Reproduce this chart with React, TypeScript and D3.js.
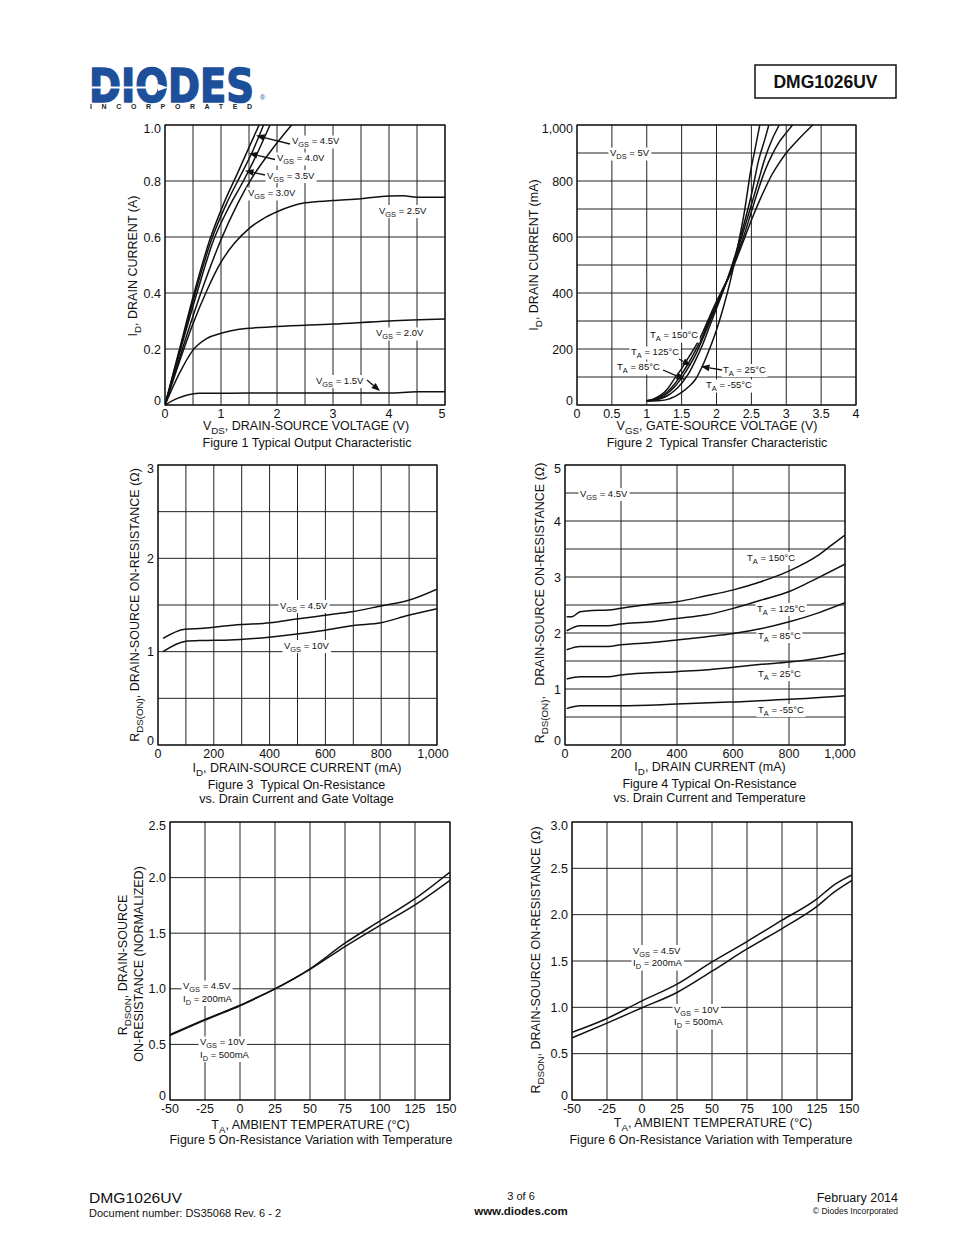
import React, { useLayoutEffect, useRef, useState } from "react";
import * as d3 from "d3";

type Pt = [number, number];
type Seg = { t: string; sub?: boolean };

const FONT = "'Liberation Sans', Arial, Helvetica, sans-serif";

// ---------------- Figure 1: Typical Output Characteristic ----------------
const fig1XTicks = [0, 1, 2, 3, 4, 5];
const fig1XGrid = [0, 0.5, 1, 1.5, 2, 2.5, 3, 3.5, 4, 4.5, 5];
const fig1YTicks = [0, 0.2, 0.4, 0.6, 0.8, 1.0];
const fig1Vgs45: Pt[] = [[0, 0], [0.26, 0.2], [0.52, 0.4], [0.8, 0.59], [1.05, 0.72], [1.3, 0.83], [1.5, 0.92], [1.68, 1.0]];
const fig1Vgs40: Pt[] = [[0, 0], [0.27, 0.2], [0.54, 0.4], [0.83, 0.59], [1.1, 0.72], [1.35, 0.82], [1.55, 0.9], [1.76, 1.0]];
const fig1Vgs35: Pt[] = [[0, 0], [0.28, 0.2], [0.57, 0.4], [0.87, 0.59], [1.15, 0.71], [1.4, 0.8], [1.65, 0.9], [1.875, 1.0]];
const fig1Vgs30: Pt[] = [[0, 0], [0.31, 0.2], [0.64, 0.4], [1.0, 0.59], [1.3, 0.72], [1.55, 0.81], [1.9, 0.91], [2.26, 1.0]];
const fig1Vgs25: Pt[] = [[0, 0], [0.25, 0.15], [0.5, 0.29], [0.75, 0.41], [1.0, 0.51], [1.25, 0.58], [1.5, 0.63], [1.75, 0.665], [2.0, 0.69], [2.5, 0.722], [3.0, 0.73], [3.5, 0.737], [4.0, 0.746], [4.25, 0.747], [4.5, 0.742], [5.0, 0.742]];
const fig1Vgs20: Pt[] = [[0, 0], [0.25, 0.11], [0.5, 0.196], [0.75, 0.238], [1.0, 0.256], [1.3, 0.27], [2.0, 0.28], [3.0, 0.289], [4.0, 0.3], [5.0, 0.307]];
const fig1Vgs15: Pt[] = [[0, 0], [0.2, 0.022], [0.4, 0.036], [0.6, 0.042], [1.0, 0.042], [2.0, 0.043], [3.0, 0.043], [4.0, 0.043], [4.5, 0.047], [5.0, 0.047]];

// ---------------- Figure 2: Typical Transfer Characteristic ----------------
const fig2XTicks = [0, 0.5, 1, 1.5, 2, 2.5, 3, 3.5, 4];
const fig2YTicks = [0, 200, 400, 600, 800, 1000];
const fig2YGrid = [0, 100, 200, 300, 400, 500, 600, 700, 800, 900, 1000];
const fig2T150: Pt[] = [[1.0, 15], [1.1, 22], [1.2, 35], [1.3, 58], [1.4, 95], [1.5, 130], [1.6, 170], [1.7, 210], [1.8, 258], [1.9, 315], [2.0, 370], [2.1, 420], [2.2, 470], [2.3, 530], [2.4, 595], [2.5, 660], [2.6, 720], [2.7, 775], [2.8, 825], [2.9, 865], [3.0, 900], [3.2, 955], [3.38, 1000]];
const fig2T125: Pt[] = [[1.0, 15], [1.1, 20], [1.2, 30], [1.3, 48], [1.4, 75], [1.5, 110], [1.6, 150], [1.7, 195], [1.8, 245], [1.9, 305], [2.0, 360], [2.1, 415], [2.2, 470], [2.3, 540], [2.4, 610], [2.5, 690], [2.6, 770], [2.7, 840], [2.8, 895], [2.9, 940], [3.0, 972], [3.09, 1000]];
const fig2T85: Pt[] = [[1.0, 15], [1.1, 19], [1.2, 27], [1.3, 42], [1.4, 65], [1.5, 97], [1.6, 135], [1.7, 180], [1.8, 235], [1.9, 295], [2.0, 355], [2.1, 415], [2.2, 478], [2.3, 552], [2.4, 632], [2.5, 715], [2.6, 800], [2.7, 885], [2.8, 950], [2.9, 1000]];
const fig2T25: Pt[] = [[1.0, 14], [1.1, 17], [1.2, 23], [1.3, 34], [1.4, 52], [1.5, 78], [1.6, 112], [1.7, 160], [1.8, 215], [1.9, 280], [2.0, 345], [2.1, 410], [2.2, 482], [2.3, 562], [2.4, 652], [2.5, 750], [2.6, 870], [2.7, 955], [2.75, 1000]];
const fig2Tm55: Pt[] = [[1.0, 14], [1.2, 16], [1.3, 20], [1.4, 30], [1.5, 45], [1.6, 65], [1.7, 92], [1.8, 140], [1.9, 200], [2.0, 268], [2.1, 350], [2.2, 445], [2.3, 560], [2.4, 690], [2.5, 850], [2.55, 910], [2.62, 1000]];

// ---------------- Figure 3: On-Resistance vs Drain Current and Gate Voltage ----------------
const fig3XTicks = [0, 200, 400, 600, 800, 1000];
const fig3XGrid = [0, 100, 200, 300, 400, 500, 600, 700, 800, 900, 1000];
const fig3YTicks = [0, 1, 2, 3];
const fig3YGrid = [0, 0.5, 1, 1.5, 2, 2.5, 3];
const fig3Vgs45: Pt[] = [[18, 1.143], [96, 1.24], [162, 1.25], [257, 1.28], [401, 1.31], [497, 1.35], [599, 1.39], [700, 1.43], [799, 1.49], [898, 1.55], [1000, 1.67]];
const fig3Vgs10: Pt[] = [[18, 1.0], [96, 1.11], [162, 1.12], [257, 1.125], [341, 1.14], [497, 1.19], [599, 1.23], [700, 1.28], [799, 1.31], [898, 1.39], [1000, 1.46]];

// ---------------- Figure 4: On-Resistance vs Drain Current and Temperature ----------------
const fig4XTicks = [0, 200, 400, 600, 800, 1000];
const fig4YTicks = [0, 1, 2, 3, 4, 5];
const fig4YGrid = [0, 0.5, 1, 1.5, 2, 2.5, 3, 3.5, 4, 4.5, 5];
const fig4T150: Pt[] = [[6, 2.29], [24, 2.29], [54, 2.38], [95, 2.4], [155, 2.41], [199, 2.44], [310, 2.52], [399, 2.56], [500, 2.66], [601, 2.77], [702, 2.92], [801, 3.11], [905, 3.39], [952, 3.57], [1000, 3.75]];
const fig4T125: Pt[] = [[6, 2.04], [54, 2.13], [155, 2.13], [199, 2.16], [310, 2.2], [399, 2.26], [500, 2.32], [601, 2.44], [702, 2.59], [801, 2.74], [905, 2.99], [1000, 3.23]];
const fig4T85: Pt[] = [[6, 1.7], [54, 1.76], [155, 1.76], [199, 1.79], [310, 1.83], [399, 1.875], [500, 1.93], [601, 1.99], [702, 2.08], [801, 2.2], [905, 2.36], [1000, 2.54]];
const fig4T25: Pt[] = [[6, 1.18], [54, 1.22], [155, 1.22], [199, 1.25], [399, 1.31], [500, 1.34], [601, 1.39], [702, 1.44], [801, 1.48], [905, 1.55], [1000, 1.64]];
const fig4Tm55: Pt[] = [[6, 0.65], [54, 0.7], [199, 0.7], [399, 0.73], [601, 0.77], [801, 0.815], [1000, 0.88]];

// ---------------- Figure 5: Normalized On-Resistance vs Temperature ----------------
const fig5XTicks = [-50, -25, 0, 25, 50, 75, 100, 125, 150];
const fig5YTicks = [0, 0.5, 1.0, 1.5, 2.0, 2.5];
const fig5Vgs45: Pt[] = [[-50, 0.588], [-25, 0.725], [0, 0.852], [12, 0.922], [25, 1.0], [50, 1.18], [75, 1.41], [100, 1.61], [125, 1.81], [150, 2.05]];
const fig5Vgs10: Pt[] = [[-50, 0.58], [-25, 0.718], [0, 0.848], [12, 0.918], [25, 1.0], [50, 1.175], [75, 1.38], [100, 1.57], [125, 1.755], [150, 1.976]];

// ---------------- Figure 6: On-Resistance vs Temperature ----------------
const fig6XTicks = [-50, -25, 0, 25, 50, 75, 100, 125, 150];
const fig6YTicks = [0, 0.5, 1.0, 1.5, 2.0, 2.5, 3.0];
const fig6Vgs45: Pt[] = [[-50, 0.73], [-25, 0.88], [0, 1.07], [25, 1.25], [50, 1.49], [75, 1.71], [100, 1.94], [125, 2.17], [137, 2.32], [150, 2.43]];
const fig6Vgs10: Pt[] = [[-50, 0.67], [-25, 0.83], [0, 0.995], [25, 1.16], [50, 1.39], [75, 1.63], [100, 1.85], [125, 2.09], [137, 2.24], [150, 2.37]];

// ---------------- helpers ----------------
const s = (t: string): Seg => ({ t, sub: true });
const n = (t: string): Seg => ({ t });

function RichText(props: {
  x: number; y: number; segs: Seg[]; size: number; anchor?: string; bg?: boolean;
  transform?: string; weight?: string;
}) {
  const { x, y, segs, size, anchor = "start", bg = false, transform, weight } = props;
  const ref = useRef<SVGTextElement>(null);
  const [bb, setBb] = useState<{ x: number; y: number; w: number; h: number } | null>(null);
  useLayoutEffect(() => {
    if (bg && ref.current) {
      const b = ref.current.getBBox();
      setBb({ x: b.x, y: b.y, w: b.width, h: b.height });
    }
  }, [bg]);
  const off = size * 0.32;
  let inSub = false;
  const spans = segs.map((g, i) => {
    let dy = 0;
    if (g.sub && !inSub) { dy = off; inSub = true; }
    else if (!g.sub && inSub) { dy = -off; inSub = false; }
    return (
      <tspan key={i} dy={dy || undefined} fontSize={g.sub ? size * 0.78 : size}>{g.t}</tspan>
    );
  });
  return (
    <g transform={transform}>
      {bg && bb && <rect x={bb.x - 1.5} y={bb.y + 0.5} width={bb.w + 3} height={bb.h - 1} fill="#fff" />}
      <text ref={ref} x={x} y={y} fontSize={size} textAnchor={anchor as any} fontFamily={FONT}
        fontWeight={weight} fill="#111" style={{ whiteSpace: "pre" }}>{spans}</text>
    </g>
  );
}

function Arrow({ x1, y1, x2, y2 }: { x1: number; y1: number; x2: number; y2: number }) {
  const a = Math.atan2(y2 - y1, x2 - x1);
  const L = 8.5, W = 3.4;
  const bx = x2 - L * Math.cos(a), by = y2 - L * Math.sin(a);
  const px = -Math.sin(a) * W, py = Math.cos(a) * W;
  return (
    <g>
      <line x1={x1} y1={y1} x2={bx} y2={by} stroke="#111" strokeWidth={1.3} />
      <polygon points={`${x2},${y2} ${bx + px},${by + py} ${bx - px},${by - py}`} fill="#111" />
    </g>
  );
}

type ChartProps = {
  id: string; l: number; t: number; w: number; h: number;
  xDomain: [number, number]; yDomain: [number, number];
  xGrid: number[]; yGrid: number[]; xTicks: number[]; yTicks: number[];
  xFmt: (v: number) => string; yFmt: (v: number) => string;
  series: Pt[][]; lastShift?: number;
};

function Chart(p: ChartProps) {
  const x = d3.scaleLinear().domain(p.xDomain).range([p.l, p.l + p.w]);
  const y = d3.scaleLinear().domain(p.yDomain).range([p.t + p.h, p.t]);
  const line = d3.line<Pt>().x(d => x(d[0])).y(d => y(d[1])).curve(d3.curveMonotoneX);
  const fs = 12.5;
  const xMax = p.xDomain[1], yMax = p.yDomain[1], yMin = p.yDomain[0];
  return (
    <g>
      <clipPath id={p.id}><rect x={p.l} y={p.t - 1} width={p.w} height={p.h + 2} /></clipPath>
      {p.xGrid.map(v => (
        <line key={"gx" + v} x1={x(v)} x2={x(v)} y1={p.t} y2={p.t + p.h} stroke="#222" strokeWidth={1} />
      ))}
      {p.yGrid.map(v => (
        <line key={"gy" + v} x1={p.l} x2={p.l + p.w} y1={y(v)} y2={y(v)} stroke="#222" strokeWidth={1} />
      ))}
      <rect x={p.l} y={p.t} width={p.w} height={p.h} fill="none" stroke="#111" strokeWidth={1.2} />
      <g clipPath={`url(#${p.id})`}>
        {p.series.map((d, i) => (
          <path key={i} d={line(d) || ""} fill="none" stroke="#111" strokeWidth={1.5} strokeLinejoin="round" />
        ))}
      </g>
      {p.xTicks.map(v => (
        <text key={"tx" + v} x={x(v) + (v === xMax ? (p.lastShift ?? -3) : 0)} y={p.t + p.h + 12.5}
          fontSize={fs} fontFamily={FONT} textAnchor="middle" fill="#111">{p.xFmt(v)}</text>
      ))}
      {p.yTicks.map(v => (
        <text key={"ty" + v} x={p.l - 4} y={y(v) + 4.5 + (v === yMax ? 3 : v === yMin ? -5 : 0)}
          fontSize={fs} fontFamily={FONT} textAnchor="end" fill="#111">{p.yFmt(v)}</text>
      ))}
    </g>
  );
}

function Title({ x, y, segs, size = 12.5 }: { x: number; y: number; segs: Seg[]; size?: number }) {
  return <RichText x={x} y={y} segs={segs} size={size} anchor="middle" />;
}

function YTitle({ x, y, segs }: { x: number; y: number; segs: Seg[] }) {
  return <RichText x={0} y={0} segs={segs} size={12.5} anchor="middle" transform={`translate(${x},${y}) rotate(-90)`} />;
}

function Ann({ x, y, segs }: { x: number; y: number; segs: Seg[] }) {
  return <RichText x={x} y={y} segs={segs} size={9.5} bg />;
}

const fmtComma = d3.format(",");
const fmtPlain = (v: number) => String(v);
const fmt1 = (v: number) => (v === 0 ? "0" : d3.format(".1f")(v));

export default function App() {
  return (
    <svg width={954} height={1235} viewBox="0 0 954 1235"
      style={{ position: "absolute", left: 0, top: 0, background: "#fff" }}>
      <rect x={0} y={0} width={954} height={1235} fill="#fff" />

      {/* Header logo */}
      <text x={89} y={101.5} fontFamily="'DejaVu Sans', Arial, sans-serif" fontWeight={900} fontSize={46}
        textLength={165} lengthAdjust="spacingAndGlyphs" fill="#1d4f9b" stroke="#1d4f9b" strokeWidth={1.6}
        strokeLinejoin="round">DIODES</text>
      <line x1={86} y1={87.5} x2={160} y2={87.5} stroke="#fff" strokeWidth={2.2} />
      <polygon points="158,84 168,87.5 158,91" fill="#fff" />
      <text x={260} y={100} fontFamily={FONT} fontSize={7} fill="#1d4f9b">®</text>
      <text x={90} y={109} fontFamily={FONT} fontWeight={700} fontSize={7} textLength={162}
        lengthAdjust="spacing" fill="#222">INCORPORATED</text>

      {/* Header part number box */}
      <rect x={755} y={65} width={141} height={33} fill="none" stroke="#111" strokeWidth={1.5} />
      <text x={825.5} y={88} fontFamily={FONT} fontWeight={700} fontSize={17.5} textAnchor="middle" fill="#111">DMG1026UV</text>

      {/* Figure 1 */}
      <Chart id="c1" l={165} t={125} w={280} h={280} xDomain={[0, 5]} yDomain={[0, 1]}
        xGrid={fig1XGrid} yGrid={fig1YTicks} xTicks={fig1XTicks} yTicks={fig1YTicks}
        xFmt={fmtPlain} yFmt={fmt1}
        series={[fig1Vgs45, fig1Vgs40, fig1Vgs35, fig1Vgs30, fig1Vgs25, fig1Vgs20, fig1Vgs15]} />
      <Ann x={292} y={144} segs={[n("V"), s("GS"), n(" = 4.5V")]} />
      <Ann x={277} y={161} segs={[n("V"), s("GS"), n(" = 4.0V")]} />
      <Ann x={267} y={178.5} segs={[n("V"), s("GS"), n(" = 3.5V")]} />
      <Ann x={248} y={196} segs={[n("V"), s("GS"), n(" = 3.0V")]} />
      <Ann x={379} y={213.5} segs={[n("V"), s("GS"), n(" = 2.5V")]} />
      <Ann x={376} y={336} segs={[n("V"), s("GS"), n(" = 2.0V")]} />
      <Ann x={316} y={383.5} segs={[n("V"), s("GS"), n(" = 1.5V")]} />
      <Arrow x1={290} y1={144} x2={256} y2={135.5} />
      <Arrow x1={275} y1={159.5} x2={249} y2={153.3} />
      <Arrow x1={265} y1={175} x2={245} y2={170.7} />
      <Arrow x1={367} y1={380} x2={380} y2={391} />
      <Title x={306} y={430} segs={[n("V"), s("DS"), n(", DRAIN-SOURCE VOLTAGE (V)")]} />
      <Title x={307} y={447} segs={[n("Figure 1 Typical Output Characteristic")]} />
      <YTitle x={137} y={266} segs={[n("I"), s("D"), n(", DRAIN CURRENT (A)")]} />

      {/* Figure 2 */}
      <Chart id="c2" l={577} t={125} w={279} h={280} xDomain={[0, 4]} yDomain={[0, 1000]}
        xGrid={fig2XTicks} yGrid={fig2YGrid} xTicks={fig2XTicks} yTicks={fig2YTicks}
        xFmt={fmtPlain} yFmt={fmtComma} lastShift={0}
        series={[fig2T150, fig2T125, fig2T85, fig2T25, fig2Tm55]} />
      <Ann x={610} y={156} segs={[n("V"), s("DS"), n(" = 5V")]} />
      <Ann x={650} y={338} segs={[n("T"), s("A"), n(" = 150°C")]} />
      <Ann x={631} y={355} segs={[n("T"), s("A"), n(" = 125°C")]} />
      <Ann x={617} y={370} segs={[n("T"), s("A"), n(" = 85°C")]} />
      <Ann x={723} y={372.5} segs={[n("T"), s("A"), n(" = 25°C")]} />
      <Ann x={706} y={388} segs={[n("T"), s("A"), n(" = -55°C")]} />
      <Arrow x1={679} y1={359} x2={691} y2={365.5} />
      <Arrow x1={663} y1={370} x2={685} y2={379.5} />
      <Arrow x1={722} y1={370} x2={701} y2={366.5} />
      <Title x={717} y={430} segs={[n("V"), s("GS"), n(", GATE-SOURCE VOLTAGE (V)")]} />
      <Title x={717} y={447} segs={[n("Figure 2  Typical Transfer Characteristic")]} />
      <YTitle x={538} y={255} segs={[n("I"), s("D"), n(", DRAIN CURRENT (mA)")]} />

      {/* Figure 3 */}
      <Chart id="c3" l={158} t={465} w={279} h={280} xDomain={[0, 1000]} yDomain={[0, 3]}
        xGrid={fig3XGrid} yGrid={fig3YGrid} xTicks={fig3XTicks} yTicks={fig3YTicks}
        xFmt={fmtComma} yFmt={fmtPlain} lastShift={-4}
        series={[fig3Vgs45, fig3Vgs10]} />
      <Ann x={280} y={608.5} segs={[n("V"), s("GS"), n(" = 4.5V")]} />
      <Ann x={284} y={648.5} segs={[n("V"), s("GS"), n(" = 10V")]} />
      <Title x={297} y={772} segs={[n("I"), s("D"), n(", DRAIN-SOURCE CURRENT (mA)")]} />
      <Title x={296.5} y={789} segs={[n("Figure 3  Typical On-Resistance")]} />
      <Title x={296.5} y={803} segs={[n("vs. Drain Current and Gate Voltage")]} />
      <YTitle x={139} y={605} segs={[n("R"), s("DS(ON)"), n(", DRAIN-SOURCE ON-RESISTANCE (Ω)")]} />

      {/* Figure 4 */}
      <Chart id="c4" l={565} t={465} w={280} h={280} xDomain={[0, 1000]} yDomain={[0, 5]}
        xGrid={fig4XTicks} yGrid={fig4YGrid} xTicks={fig4XTicks} yTicks={fig4YTicks}
        xFmt={fmtComma} yFmt={fmtPlain} lastShift={-5}
        series={[fig4T150, fig4T125, fig4T85, fig4T25, fig4Tm55]} />
      <Ann x={580} y={496.5} segs={[n("V"), s("GS"), n(" = 4.5V")]} />
      <Ann x={747} y={560.5} segs={[n("T"), s("A"), n(" = 150°C")]} />
      <Ann x={757} y={611.5} segs={[n("T"), s("A"), n(" = 125°C")]} />
      <Ann x={758} y={638.5} segs={[n("T"), s("A"), n(" = 85°C")]} />
      <Ann x={758} y={676.5} segs={[n("T"), s("A"), n(" = 25°C")]} />
      <Ann x={758} y={712.5} segs={[n("T"), s("A"), n(" = -55°C")]} />
      <Title x={710} y={771} segs={[n("I"), s("D"), n(", DRAIN CURRENT (mA)")]} />
      <Title x={709.5} y={788} segs={[n("Figure 4 Typical On-Resistance")]} />
      <Title x={709.5} y={802} segs={[n("vs. Drain Current and Temperature")]} />
      <YTitle x={544} y={603} segs={[n("R"), s("DS(ON)"), n(",   DRAIN-SOURCE ON-RESISTANCE (Ω)")]} />

      {/* Figure 5 */}
      <Chart id="c5" l={170} t={822} w={280} h={278} xDomain={[-50, 150]} yDomain={[0, 2.5]}
        xGrid={fig5XTicks} yGrid={fig5YTicks} xTicks={fig5XTicks} yTicks={fig5YTicks}
        xFmt={fmtPlain} yFmt={fmt1} lastShift={-4}
        series={[fig5Vgs45, fig5Vgs10]} />
      <Ann x={183} y={989} segs={[n("V"), s("GS"), n(" = 4.5V")]} />
      <Ann x={183} y={1001.5} segs={[n("I"), s("D"), n(" = 200mA")]} />
      <Ann x={200} y={1045} segs={[n("V"), s("GS"), n(" = 10V")]} />
      <Ann x={200} y={1057.5} segs={[n("I"), s("D"), n(" = 500mA")]} />
      <Title x={310.5} y={1129} segs={[n("T"), s("A"), n(", AMBIENT TEMPERATURE (°C)")]} />
      <Title x={311} y={1144} segs={[n("Figure 5 On-Resistance Variation with Temperature")]} />
      <YTitle x={127} y={965} segs={[n("R"), s("DSON"), n(", DRAIN-SOURCE")]} />
      <YTitle x={143} y={964} segs={[n("ON-RESISTANCE (NORMALIZED)")]} />

      {/* Figure 6 */}
      <Chart id="c6" l={572} t={822} w={280} h={278} xDomain={[-50, 150]} yDomain={[0, 3]}
        xGrid={fig6XTicks} yGrid={fig6YTicks} xTicks={fig6XTicks} yTicks={fig6YTicks}
        xFmt={fmtPlain} yFmt={fmt1} lastShift={-3}
        series={[fig6Vgs45, fig6Vgs10]} />
      <Ann x={633} y={953.5} segs={[n("V"), s("GS"), n(" = 4.5V")]} />
      <Ann x={633} y={966} segs={[n("I"), s("D"), n(" = 200mA")]} />
      <Ann x={674} y={1012.5} segs={[n("V"), s("GS"), n(" = 10V")]} />
      <Ann x={674} y={1025} segs={[n("I"), s("D"), n(" = 500mA")]} />
      <Title x={713} y={1127} segs={[n("T"), s("A"), n(", AMBIENT TEMPERATURE (°C)")]} />
      <Title x={711} y={1144} segs={[n("Figure 6 On-Resistance Variation with Temperature")]} />
      <YTitle x={540} y={960} segs={[n("R"), s("DSON"), n(", DRAIN-SOURCE ON-RESISTANCE (Ω)")]} />

      {/* Footer */}
      <text x={89} y={1203} fontFamily={FONT} fontSize={14.5} textLength={93} lengthAdjust="spacingAndGlyphs" fill="#111">DMG1026UV</text>
      <text x={89} y={1217} fontFamily={FONT} fontSize={10.5} textLength={192} lengthAdjust="spacingAndGlyphs" fill="#111">Document number: DS35068 Rev. 6 - 2</text>
      <text x={521} y={1200} fontFamily={FONT} fontSize={11} textAnchor="middle" fill="#111">3 of 6</text>
      <text x={521} y={1215} fontFamily={FONT} fontSize={11.5} fontWeight={700} textAnchor="middle" fill="#111">www.diodes.com</text>
      <text x={898} y={1202} fontFamily={FONT} fontSize={12.5} textAnchor="end" fill="#111">February 2014</text>
      <text x={898} y={1214} fontFamily={FONT} fontSize={8.5} textAnchor="end" fill="#111">© Diodes Incorporated</text>
    </svg>
  );
}
